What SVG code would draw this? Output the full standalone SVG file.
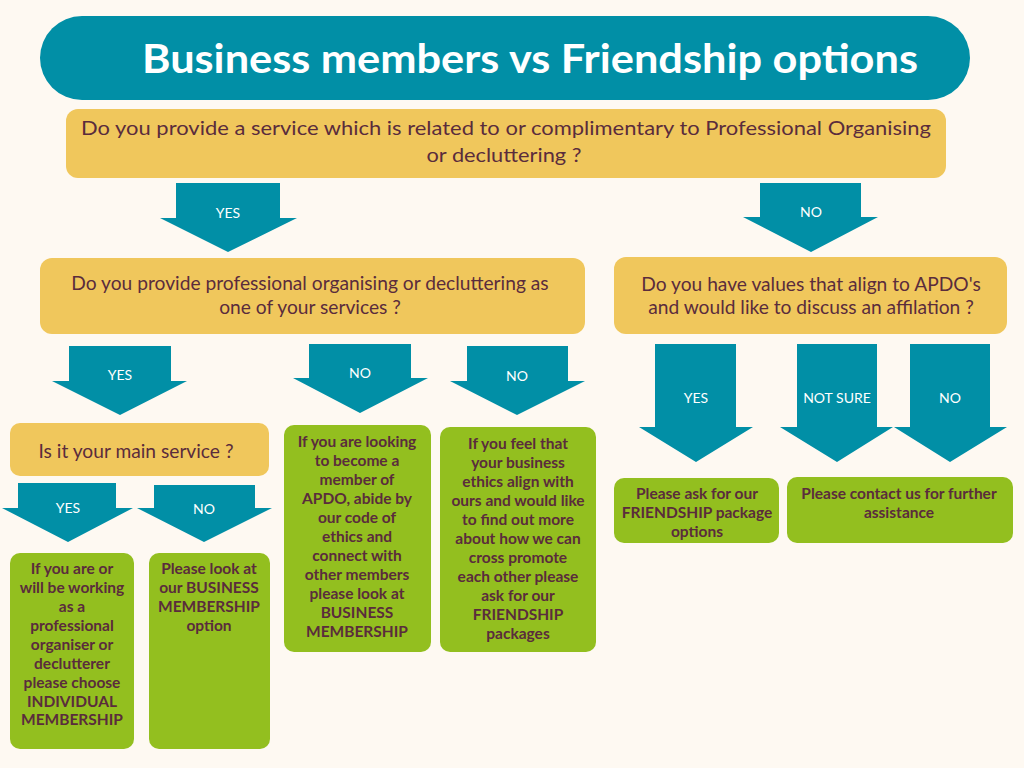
<svg xmlns="http://www.w3.org/2000/svg" width="1024" height="768" viewBox="0 0 1024 768">
<style>
.bg{fill:#FEF9F2}
.title{fill:#018FA6}
.q{fill:#F0C75C}
.g{fill:#93BF1F}
.arr{fill:#018FA6}
.tt{font-family:Lato,"Open Sans",sans-serif;font-weight:bold;font-size:41px;fill:#FFFFFF;text-anchor:middle}
.qt{font-family:Lato,"Open Sans",sans-serif;font-size:19.2px;fill:#5A2C3C;text-anchor:middle}
.gt{font-family:Lato,"Open Sans",sans-serif;font-weight:bold;font-size:15.5px;fill:#5A2C3C;text-anchor:middle}
.lt{font-family:Lato,"Open Sans",sans-serif;font-size:14px;fill:#FFFFFF;text-anchor:middle}
</style>
<rect class="bg" x="0" y="0" width="1024" height="768"/>

<g id="connectors">
  <g id="arrow-q1-yes">
    <polygon class="arr" points="176,183 280,183 280,218 297,218 228,252 160,218 176,218"/>
    <text class="lt" x="228" y="218">YES</text>
  </g>
  <g id="arrow-q1-no">
    <polygon class="arr" points="760,183 861,183 861,217 878,217 811,252 743,217 760,217"/>
    <text class="lt" x="811" y="217">NO</text>
  </g>
  <g id="arrow-q2-yes">
    <polygon class="arr" points="69,346 171,346 171,381 187,381 120,415 52,381 69,381"/>
    <text class="lt" x="120" y="380">YES</text>
  </g>
  <g id="arrow-q2-no1">
    <polygon class="arr" points="309,344 411,344 411,378 428,378 360,413 293,378 309,378"/>
    <text class="lt" x="360" y="378">NO</text>
  </g>
  <g id="arrow-q2-no2">
    <polygon class="arr" points="467,346 568,346 568,381 585,381 517,415 450,381 467,381"/>
    <text class="lt" x="517" y="381">NO</text>
  </g>
  <g id="arrow-q3-yes">
    <polygon class="arr" points="655,344 736,344 736,427 753,427 696,462 639,427 655,427"/>
    <text class="lt" x="696" y="403">YES</text>
  </g>
  <g id="arrow-q3-notsure">
    <polygon class="arr" points="797,344 877,344 877,427 893,427 837,462 780,427 797,427"/>
    <text class="lt" x="837" y="403">NOT SURE</text>
  </g>
  <g id="arrow-q3-no">
    <polygon class="arr" points="910,344 990,344 990,427 1007,427 950,462 894,427 910,427"/>
    <text class="lt" x="950" y="403">NO</text>
  </g>
  <g id="arrow-q4-yes">
    <polygon class="arr" points="18,483 116,483 116,508 133,508 68,542 2,508 18,508"/>
    <text class="lt" x="68" y="513">YES</text>
  </g>
  <g id="arrow-q4-no">
    <polygon class="arr" points="154,485 255,485 255,508 272,508 204,542 137,508 154,508"/>
    <text class="lt" x="204" y="514">NO</text>
  </g>
</g>

<g id="title">
  <rect class="title" x="40" y="16" width="930" height="84" rx="42"/>
  <text class="tt" x="530" y="73" textLength="776" lengthAdjust="spacingAndGlyphs">Business members vs Friendship options</text>
</g>

<g id="q1">
  <rect class="q" x="66" y="109" width="880" height="69" rx="12"/>
  <text class="qt" x="506" y="135" font-size="20" textLength="850" lengthAdjust="spacingAndGlyphs">Do you provide a service which is related to or complimentary to Professional Organising</text>
  <text class="qt" x="504" y="162" font-size="20" textLength="155" lengthAdjust="spacingAndGlyphs">or decluttering ?</text>
</g>

<g id="q2">
  <rect class="q" x="40" y="258" width="545" height="76" rx="12"/>
  <text class="qt" x="310" y="290">Do you provide professional organising or decluttering as</text>
  <text class="qt" x="310" y="314">one of your services ?</text>
</g>

<g id="q3">
  <rect class="q" x="614" y="257" width="393" height="77" rx="12"/>
  <text class="qt" x="811" y="291">Do you have values that align to APDO's</text>
  <text class="qt" x="811" y="314">and would like to discuss an affilation ?</text>
</g>

<g id="q4">
  <rect class="q" x="10" y="423" width="259" height="53" rx="10"/>
  <text class="qt" x="136" y="458">Is it your main service ?</text>
</g>

<g id="individual">
  <rect class="g" x="10" y="553" width="124" height="196" rx="10"/>
  <text class="gt" x="72" y="574">If you are or</text>
  <text class="gt" x="72" y="593">will be working</text>
  <text class="gt" x="72" y="612">as a</text>
  <text class="gt" x="72" y="631">professional</text>
  <text class="gt" x="72" y="650">organiser or</text>
  <text class="gt" x="72" y="669">declutterer</text>
  <text class="gt" x="72" y="688">please choose</text>
  <text class="gt" x="72" y="707">INDIVIDUAL</text>
  <text class="gt" x="72" y="725">MEMBERSHIP</text>
</g>

<g id="business">
  <rect class="g" x="149" y="553" width="121" height="196" rx="10"/>
  <text class="gt" x="209" y="574">Please look at</text>
  <text class="gt" x="209" y="593">our BUSINESS</text>
  <text class="gt" x="209" y="612">MEMBERSHIP</text>
  <text class="gt" x="209" y="631">option</text>
</g>

<g id="business-member">
  <rect class="g" x="284" y="425" width="147" height="227" rx="10"/>
  <text class="gt" x="357" y="447">If you are looking</text>
  <text class="gt" x="357" y="466">to become a</text>
  <text class="gt" x="357" y="485">member of</text>
  <text class="gt" x="357" y="504">APDO, abide by</text>
  <text class="gt" x="357" y="523">our code of</text>
  <text class="gt" x="357" y="542">ethics and</text>
  <text class="gt" x="357" y="561">connect with</text>
  <text class="gt" x="357" y="580">other members</text>
  <text class="gt" x="357" y="599">please look at</text>
  <text class="gt" x="357" y="618">BUSINESS</text>
  <text class="gt" x="357" y="637">MEMBERSHIP</text>
</g>

<g id="friendship-packages">
  <rect class="g" x="440" y="427" width="156" height="225" rx="10"/>
  <text class="gt" x="518" y="449">If you feel that</text>
  <text class="gt" x="518" y="468">your business</text>
  <text class="gt" x="518" y="487">ethics align with</text>
  <text class="gt" x="518" y="506">ours and would like</text>
  <text class="gt" x="518" y="525">to find out more</text>
  <text class="gt" x="518" y="544">about how we can</text>
  <text class="gt" x="518" y="563">cross promote</text>
  <text class="gt" x="518" y="582">each other please</text>
  <text class="gt" x="518" y="601">ask for our</text>
  <text class="gt" x="518" y="620">FRIENDSHIP</text>
  <text class="gt" x="518" y="639">packages</text>
</g>

<g id="friendship-options">
  <rect class="g" x="614" y="478" width="165" height="65" rx="10"/>
  <text class="gt" x="697" y="499">Please ask for our</text>
  <text class="gt" x="697" y="518">FRIENDSHIP package</text>
  <text class="gt" x="697" y="537">options</text>
</g>

<g id="contact">
  <rect class="g" x="787" y="477" width="226" height="66" rx="10"/>
  <text class="gt" x="899" y="499">Please contact us for further</text>
  <text class="gt" x="899" y="518">assistance</text>
</g>
</svg>
